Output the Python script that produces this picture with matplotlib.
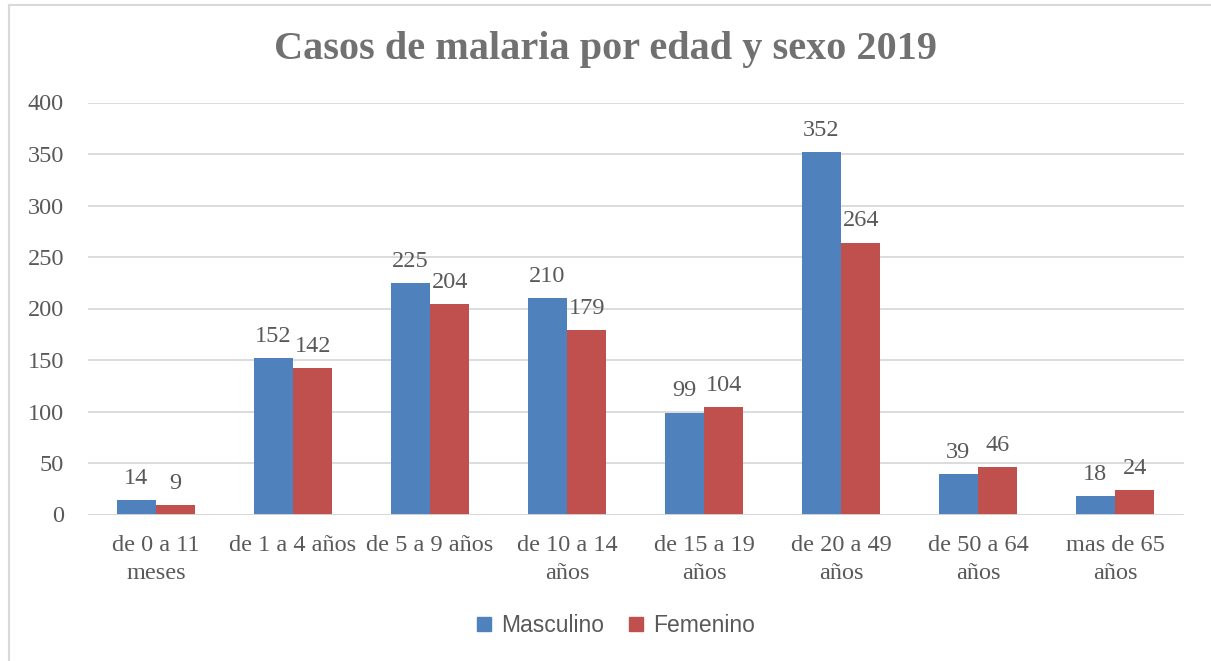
import matplotlib
matplotlib.use("Agg")
import matplotlib.pyplot as plt
import numpy as np
from matplotlib.lines import Line2D

categories = ["de 0 a 11\nmeses", "de 1 a 4 años", "de 5 a 9 años", "de 10 a 14\naños",
              "de 15 a 19\naños", "de 20 a 49\naños", "de 50 a 64\naños", "mas de 65\naños"]
masculino = [14, 152, 225, 210, 99, 352, 39, 18]
femenino = [9, 142, 204, 179, 104, 264, 46, 24]
yticks = [0, 50, 100, 150, 200, 250, 300, 350, 400]
title = "Casos de malaria por edad y sexo 2019"

W, H = 1211, 661
fig = plt.figure(figsize=(W / 100, H / 100), dpi=100)
ax = fig.add_axes([87.5 / W, (H - 514.5) / H, (1183.5 - 87.5) / W, (514.5 - 102.5) / H])

blue = "#4f81bd"
red = "#c0504d"
txt = "#595959"
serif = "Liberation Serif"
fs = 17.5

x = np.arange(len(categories))
bw = 0.287
b1 = ax.bar(x - bw / 2, masculino, bw, color=blue, label="Masculino", zorder=3)
b2 = ax.bar(x + bw / 2, femenino, bw, color=red, label="Femenino", zorder=3)

for bars, vals in ((b1, masculino), (b2, femenino)):
    for rect, v in zip(bars, vals):
        ax.annotate(str(v), (rect.get_x() + rect.get_width() / 2, rect.get_height()),
                    xytext=(0, 8), textcoords="offset points", ha="center", va="bottom",
                    fontsize=fs, color=txt, family=serif)

ax.set_xlim(-0.5, len(categories) - 0.5)
ax.set_ylim(0, 400)
ax.set_yticks(yticks)
ax.set_yticklabels([str(t) for t in yticks], fontsize=fs, color=txt, family=serif)
ax.set_xticks(x)
ax.set_xticklabels(categories, fontsize=fs, color=txt, family=serif, linespacing=1.4)
ax.tick_params(axis="both", length=0)
ax.tick_params(axis="y", pad=17)
ax.tick_params(axis="x", pad=15)
ax.yaxis.grid(True, color="#d9d9d9", linewidth=1.3, zorder=0)
for s in ax.spines.values():
    s.set_visible(False)
ax.axhline(0, color="#d9d9d9", linewidth=1.3, zorder=4)

fig.text(0.5, (H - 50) / H, title, ha="center", va="center", fontsize=29,
         fontweight="bold", color="#717171", family=serif)

handles = [Line2D([], [], marker="s", linestyle="none", markersize=10, color=blue),
           Line2D([], [], marker="s", linestyle="none", markersize=10, color=red)]
fig.legend(handles, ["Masculino", "Femenino"], loc="center", bbox_to_anchor=(608 / W, (H - 626) / H),
           ncol=2, frameon=False, handletextpad=-0.25, columnspacing=0.4,
           prop={"family": "Liberation Sans", "size": 16.5}, labelcolor=txt)

# chart border (left and top visible)
fig.add_artist(Line2D([8.5 / W, 8.5 / W], [0, (H - 5) / H], color="#d9d9d9", linewidth=1.5,
                      transform=fig.transFigure))
fig.add_artist(Line2D([8.5 / W, 1.0], [(H - 5) / H, (H - 5) / H], color="#d9d9d9", linewidth=1.5,
                      transform=fig.transFigure))

fig.savefig("out.png", dpi=100)
